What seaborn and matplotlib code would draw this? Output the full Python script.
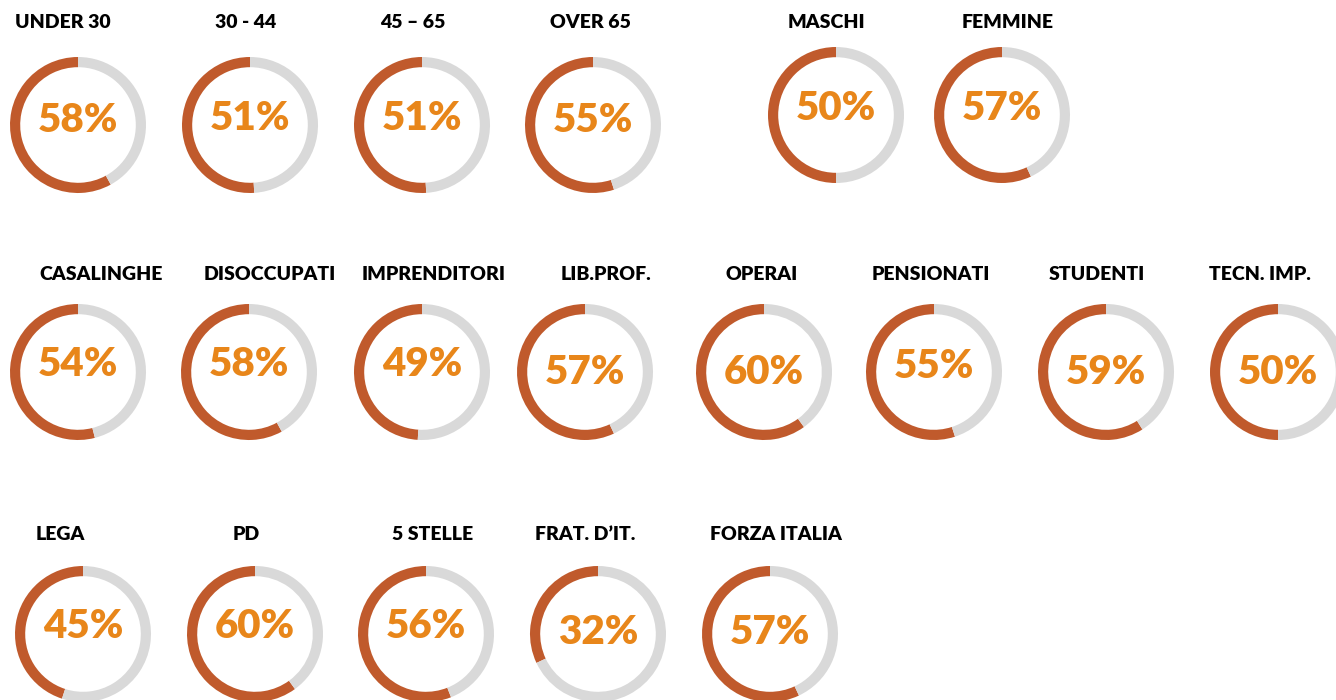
import matplotlib
matplotlib.use("Agg")
import matplotlib.pyplot as plt
import seaborn as sns

# data
labels = ["UNDER 30", "30 - 44", "45 \u2013 65", "OVER 65", "MASCHI", "FEMMINE",
          "CASALINGHE", "DISOCCUPATI", "IMPRENDITORI", "LIB.PROF.", "OPERAI",
          "PENSIONATI", "STUDENTI", "TECN. IMP.",
          "LEGA", "PD", "5 STELLE", "FRAT. D\u2019IT.", "FORZA ITALIA"]
values = [58, 51, 51, 55, 50, 57,
          54, 58, 49, 57, 60, 55, 59, 50,
          45, 60, 56, 32, 57]

# layout in pixels: donut centre x, centre y, label x, label y, value text y
layout = [(78, 125, 63, 22, 121), (250, 125, 246, 22, 118), (422, 125, 413, 22, 118),
          (593, 125, 590, 22, 121), (836, 115, 826, 22, 108), (1002, 115, 1008, 22, 108),
          (78, 372, 101, 274, 365), (249, 372, 270, 274, 365), (422, 372, 434, 274, 365),
          (585, 372, 606, 274, 372), (764, 372, 762, 274, 372), (934, 372, 931, 274, 367),
          (1106, 372, 1097, 274, 372), (1278, 372, 1260, 274, 372),
          (83, 634, 60, 535, 627), (255, 634, 246, 535, 627), (426, 634, 433, 535, 627),
          (598, 634, 585, 535, 633), (770, 634, 776, 535, 633)]

W, H = 1336, 700
R = 68

sns.set_theme(style="white")
plt.rcParams["font.family"] = ["Lato", "DejaVu Sans"]

dark, grey, txt = "#C05A2C", "#D9D9D9", "#E8861A"

fig = plt.figure(figsize=(W / 100, H / 100), dpi=100)
fig.patch.set_facecolor("white")

for lab, v, (cx, cy, lx, ly, ty) in zip(labels, values, layout):
    ax = fig.add_axes([(cx - R) / W, 1 - (cy + R) / H, 2 * R / W, 2 * R / H])
    ax.pie([v, 100 - v], colors=[dark, grey], startangle=90, counterclock=True,
           radius=1, wedgeprops=dict(width=0.15, linewidth=0))
    ax.set_xlim(-1, 1)
    ax.set_ylim(-1, 1)
    ax.set_aspect("equal")
    ax.axis("off")
    fig.text(lx / W, 1 - ly / H, lab, ha="center", va="center",
             fontsize=14, fontweight="heavy", color="black")
    fig.text(cx / W, 1 - ty / H, f"{v}%", ha="center", va="center",
             fontsize=29, fontweight="heavy", color=txt)

fig.savefig("out.png", dpi=100, facecolor="white")
